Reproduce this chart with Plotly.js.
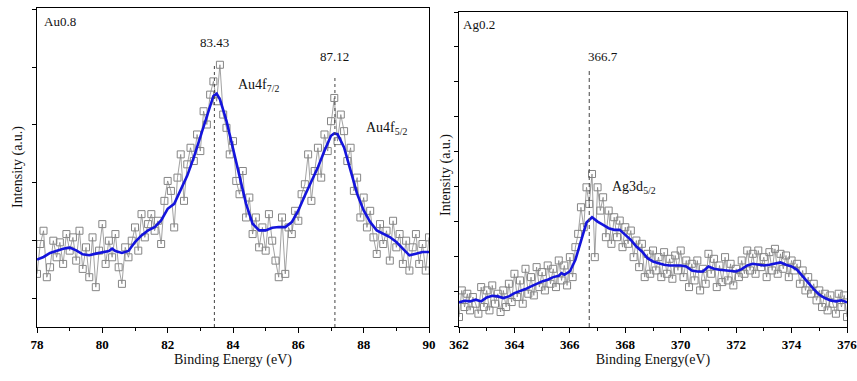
<!DOCTYPE html>
<html>
<head>
<meta charset="utf-8">
<script src="https://cdn.plot.ly/plotly-3.0.1.min.js"></script>
<style>html,body{margin:0;padding:0;background:#fff;}#chart{width:857px;height:381px;}</style>
</head>
<body>
<div id="chart"></div>
<script>
// ---- Au 4f panel (binding energy, eV) ----
var auRawE = [];
var auRaw = [160,250,290,150,180,260,210,255,190,280,230,270,200,290,175,240,150,270,120,230,
  310,190,260,210,280,180,130,240,210,260,300,230,340,270,310,340,290,320,250,380,
  440,410,300,450,520,380,490,540,500,580,530,650,610,700,740,680,790,640,600,520,
  560,440,400,470,330,390,280,330,240,300,230,340,260,200,150,330,160,300,280,350,
  320,400,430,520,380,470,540,450,580,530,620,690,560,640,590,500,540,410,450,330,
  390,300,350,270,220,310,250,290,200,320,240,280,190,260,170,240,280,190,250,170,270];
var auFitE = [78.0,78.2,78.4,78.6,78.8,79.0,79.2,79.4,79.6,79.8,80.0,80.2,80.3,80.4,80.6,80.8,
  81.0,81.2,81.4,81.6,81.8,82.0,82.2,82.4,82.6,82.8,83.0,83.2,83.4,83.5,83.6,83.8,
  84.0,84.2,84.4,84.6,84.8,85.0,85.2,85.4,85.6,85.8,86.0,86.2,86.4,86.6,86.8,87.0,
  87.1,87.2,87.4,87.6,87.8,88.0,88.2,88.4,88.6,88.8,89.0,89.2,89.4,89.6,89.8,90.0];
var auFit = [203,211,223,229,236,239,231,219,216,221,226,229,236,229,223,229,
  256,276,291,301,321,356,371,416,456,511,571,636,696,703,686,621,
  536,451,371,311,291,291,299,301,301,316,351,396,436,481,531,576,
  583,581,541,471,401,351,316,291,281,271,256,236,216,221,226,226];
var auPeaks = [83.43, 87.12];
var auPeakTop = [791, 751];
var auTickVals = [78, 80, 82, 84, 86, 88, 90];
var auTickText = ['78', '80', '82', '84', '86', '88', '90'];

// ---- Ag 3d panel ----
var agRawE = [];
var agRaw = [30,110,60,100,50,90,70,40,120,60,110,50,125,70,100,45,110,60,130,75,
  160,90,140,70,175,100,150,95,180,120,165,110,185,130,175,120,200,140,185,125,
  210,150,240,280,360,300,420,370,460,210,420,350,390,270,350,250,330,270,320,240,
  300,250,290,210,260,180,250,150,220,160,230,170,210,150,225,160,205,145,215,170,
  230,150,200,120,190,140,200,110,175,130,220,160,205,120,185,135,210,140,190,125,
  175,150,200,160,230,170,220,160,230,180,210,150,225,170,235,160,220,175,215,150,
  200,170,190,130,170,110,150,100,130,80,110,60,100,50,95,70,40,100,60,95,30];
var agFitE = [362.0,362.2,362.4,362.6,362.8,363.0,363.2,363.4,363.6,363.8,364.0,364.2,364.4,364.6,
  364.8,365.0,365.2,365.4,365.6,365.7,365.8,366.0,366.2,366.4,366.6,366.8,367.0,367.2,
  367.4,367.6,367.8,368.0,368.2,368.4,368.6,368.8,369.0,369.2,369.4,369.6,369.8,370.0,
  370.2,370.4,370.6,370.8,371.0,371.2,371.4,371.6,371.8,372.0,372.2,372.4,372.6,372.8,
  373.0,373.2,373.4,373.6,373.8,374.0,374.2,374.4,374.6,374.8,375.0,375.2,375.4,375.6,375.8,376.0];
var agFit = [74,79,77,82,77,89,94,92,87,92,102,107,114,122,
  130,137,142,150,154,162,157,167,202,262,314,330,317,307,
  297,292,292,277,262,242,227,207,197,192,187,185,185,185,
  182,170,167,167,182,175,172,170,170,167,174,185,190,187,
  185,187,190,194,187,182,172,152,132,114,97,87,80,77,80,74];
var agPeaks = [366.7];
var agPeakTop = [777];
var agTickVals = [362, 364, 366, 368, 370, 372, 374, 376];
var agTickText = ['362', '364', '366', '368', '370', '372', '374', '376'];

// energy grids of the raw scans (0.1 eV steps)
for (var i = 0; i < auRaw.length; i++) auRawE.push(+(78 + i * 0.1).toFixed(2));
for (var j = 0; j < agRaw.length; j++) agRawE.push(+(362 + j * 0.1).toFixed(2));

var serif = 'Liberation Serif, Times New Roman, serif';
var rawStyle = {mode: 'lines+markers', line: {color: '#7a7a7a', width: 0.7},
  marker: {symbol: 'square-open', size: 7, color: '#858585', line: {width: 1}}, showlegend: false, hoverinfo: 'skip'};
var fitStyle = {mode: 'lines', line: {color: '#1414dc', width: 2.6}, showlegend: false};

function merge(a, b) { var o = {}; for (var k in a) o[k] = a[k]; for (var k2 in b) o[k2] = b[k2]; return o; }

var traces = [
  merge(rawStyle, {x: auRawE, y: auRaw, xaxis: 'x', yaxis: 'y'}),
  merge(fitStyle, {x: auFitE, y: auFit, xaxis: 'x', yaxis: 'y'}),
  merge(rawStyle, {x: agRawE, y: agRaw, xaxis: 'x2', yaxis: 'y2'}),
  merge(fitStyle, {x: agFitE, y: agFit, xaxis: 'x2', yaxis: 'y2'})
];

var shapes = [];
auPeaks.forEach(function (p, k) {
  shapes.push({type: 'line', xref: 'x', yref: 'y', x0: p, x1: p, y0: 0, y1: auPeakTop[k],
    line: {color: '#444', width: 1, dash: 'dot'}});
});
agPeaks.forEach(function (p, k) {
  shapes.push({type: 'line', xref: 'x2', yref: 'y2', x0: p, x1: p, y0: 0, y1: agPeakTop[k],
    line: {color: '#555', width: 1.1, dash: '4px,3px'}});
});

var af = {family: serif, size: 13, color: '#111'};
var bf = {family: serif, size: 14, color: '#111'};
var annotations = [
  {xref: 'paper', yref: 'paper', x: 42/857, y: 1 - 22/381, text: 'Au0.8', showarrow: false, xanchor: 'left', yanchor: 'middle', font: af},
  {xref: 'x', yref: 'paper', x: 83.43, y: 1 - 42/381, text: '83.43', showarrow: false, xanchor: 'center', yanchor: 'middle', font: af},
  {xref: 'x', yref: 'paper', x: 87.12, y: 1 - 57/381, text: '87.12', showarrow: false, xanchor: 'center', yanchor: 'middle', font: af},
  {xref: 'paper', yref: 'paper', x: 236/857, y: 1 - 85/381, text: 'Au4f<sub>7/2</sub>', showarrow: false, xanchor: 'left', yanchor: 'middle', font: bf},
  {xref: 'paper', yref: 'paper', x: 364/857, y: 1 - 128/381, text: 'Au4f<sub>5/2</sub>', showarrow: false, xanchor: 'left', yanchor: 'middle', font: bf},
  {xref: 'paper', yref: 'paper', x: 18/857, y: 1 - 167/381, text: 'Intensity (a.u.)', textangle: -90, showarrow: false, xanchor: 'center', yanchor: 'middle', font: bf},
  {xref: 'paper', yref: 'paper', x: 461/857, y: 1 - 24/381, text: 'Ag0.2', showarrow: false, xanchor: 'left', yanchor: 'middle', font: af},
  {xref: 'x2', yref: 'paper', x: 367.2, y: 1 - 57/381, text: '366.7', showarrow: false, xanchor: 'center', yanchor: 'middle', font: af},
  {xref: 'paper', yref: 'paper', x: 610/857, y: 1 - 188/381, text: 'Ag3d<sub>5/2</sub>', showarrow: false, xanchor: 'left', yanchor: 'middle', font: bf},
  {xref: 'paper', yref: 'paper', x: 446/857, y: 1 - 175/381, text: 'Intensity (a.u.)', textangle: -90, showarrow: false, xanchor: 'center', yanchor: 'middle', font: bf}
];

function xax(domain, r, title, anchor, tv, tt) {
  return {domain: domain, range: r, anchor: anchor, tickmode: 'array', tickvals: tv,
    ticktext: tt.map(function (s) { return '<b>' + s + '</b>'; }),
    ticklabeloverflow: 'allow',
    ticks: 'outside', ticklen: 5, tickwidth: 1,
    tickcolor: '#000', showline: true, linecolor: '#000', linewidth: 1, mirror: true, showgrid: false, zeroline: false,
    minor: {dtick: 1, tick0: r[0], ticks: 'outside', ticklen: 3, tickcolor: '#000', showgrid: false},
    tickfont: {family: serif, size: 13, color: '#000', weight: 700},
    title: {text: title, font: {family: serif, size: 14, color: '#111'}, standoff: 3}};
}
function yax(domain, r, t0, dt, anchor) {
  return {domain: domain, range: r, anchor: anchor, tick0: t0, dtick: dt, ticks: 'outside', ticklen: 4, tickwidth: 1,
    tickcolor: '#000', showticklabels: false, showline: true, linecolor: '#000', linewidth: 1, mirror: true,
    showgrid: false, zeroline: false};
}

var layout = {
  width: 857, height: 381, margin: {l: 0, r: 0, t: 0, b: 0}, paper_bgcolor: '#fff', plot_bgcolor: '#fff',
  xaxis: xax([37/857, 429/857], [78, 90], 'Binding Energy (eV)', 'y', auTickVals, auTickText),
  yaxis: yax([54/381, 373/381], [0, 961], 87, 174, 'x'),
  xaxis2: xax([459/857, 847/857], [362, 376], 'Binding Energy(eV)', 'y2', agTickVals, agTickText),
  yaxis2: yax([54/381, 369/381], [0, 947], 107, 105, 'x2'),
  shapes: shapes, annotations: annotations
};

Plotly.newPlot('chart', traces, layout, {displayModeBar: false, staticPlot: true});
</script>
</body>
</html>
